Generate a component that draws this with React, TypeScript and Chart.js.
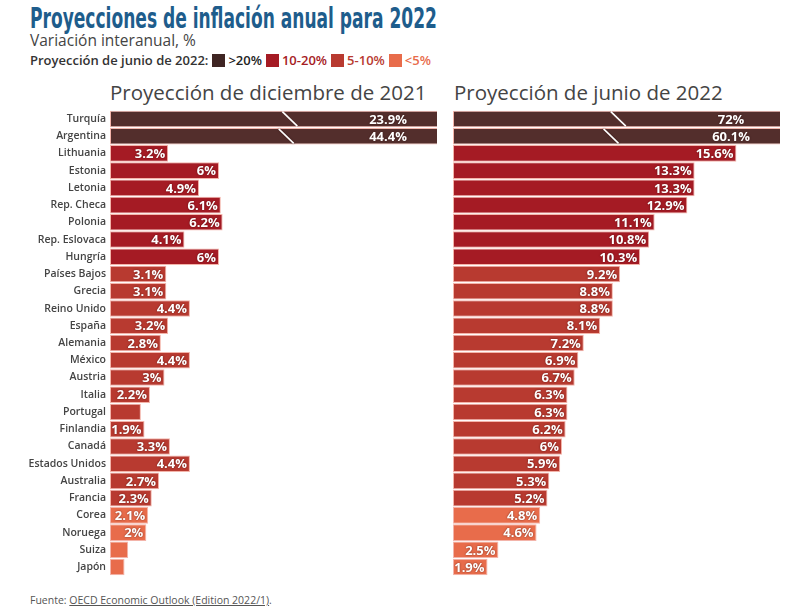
import React, { useEffect, useLayoutEffect, useRef } from "react";
import { Chart, registerables } from "chart.js";

Chart.register(...registerables);

const countries = [
  "Turquía", "Argentina", "Lithuania", "Estonia", "Letonia", "Rep. Checa", "Polonia",
  "Rep. Eslovaca", "Hungría", "Países Bajos", "Grecia", "Reino Unido", "España", "Alemania",
  "México", "Austria", "Italia", "Portugal", "Finlandia", "Canadá", "Estados Unidos",
  "Australia", "Francia", "Corea", "Noruega", "Suiza", "Japón",
];

const dec2021 = [
  23.9, 44.4, 3.2, 6, 4.9, 6.1, 6.2, 4.1, 6, 3.1, 3.1, 4.4, 3.2, 2.8,
  4.4, 3, 2.2, 1.7, 1.9, 3.3, 4.4, 2.7, 2.3, 2.1, 2, 1.0, 0.8,
];

const jun2022 = [
  72, 60.1, 15.6, 13.3, 13.3, 12.9, 11.1, 10.8, 10.3, 9.2, 8.8, 8.8, 8.1, 7.2,
  6.9, 6.7, 6.3, 6.3, 6.2, 6, 5.9, 5.3, 5.2, 4.8, 4.6, 2.5, 1.9,
];

const legendLabels = [">20%", "10-20%", "5-10%", "<5%"];
const legendColors = ["#3f2523", "#a51b24", "#b83a30", "#e86c4b"];
const legendTextColors = ["#222222", "#a51b24", "#b83a30", "#e86c4b"];
const barColors = ["#532e2c", "#a51b24", "#b83a30", "#e86c4b"];

const axisMax = 18;

function colorFor(v: number): string {
  if (v > 20) return barColors[0];
  if (v >= 10) return barColors[1];
  if (v >= 5) return barColors[2];
  return barColors[3];
}

const rowColors = jun2022.map(colorFor);

const labelPlugin = {
  id: "barLabels",
  afterDatasetsDraw(chart: any, _args: any, opts: any) {
    const ctx = chart.ctx;
    const meta = chart.getDatasetMeta(0);
    const data = chart.data.datasets[0].data as number[];
    const xs = chart.scales.x;
    const area = chart.chartArea;
    const breaks: number[] = opts.breaks || [];
    ctx.save();
    meta.data.forEach((bar: any, i: number) => {
      const v = data[i];
      const { x, y, height } = bar.getProps(["x", "y", "height"], true);
      const clipped = v > xs.max;
      const barRight = Math.min(x, area.right);
      if (clipped && breaks[i] != null) {
        const bx = xs.getPixelForValue(breaks[i]);
        ctx.strokeStyle = "#ffffff";
        ctx.lineWidth = 1.6;
        ctx.beginPath();
        ctx.moveTo(bx - 7.5, y - height / 2 + 1);
        ctx.lineTo(bx + 7.5, y + height / 2 - 1);
        ctx.stroke();
      }
      const text = String(v) + "%";
      ctx.font = 'bold 13px "Open Sans"';
      const w = ctx.measureText(text).width;
      const barW = barRight - area.left;
      if (w + 2 > barW) return;
      ctx.textBaseline = "middle";
      ctx.shadowColor = "rgba(40,0,0,0.6)";
      ctx.shadowBlur = 2;
      ctx.fillStyle = "#ffffff";
      if (clipped) {
        ctx.textAlign = "center";
        ctx.fillText(text, area.right - 49, y + 1);
      } else {
        ctx.textAlign = "right";
        ctx.fillText(text, barRight - 3, y + 1);
      }
    });
    ctx.restore();
  },
};

function makeConfig(values: number[], showLabels: boolean, yWidth: number, breaks: number[]): any {
  return {
    type: "bar",
    data: {
      labels: countries,
      datasets: [
        {
          data: values,
          backgroundColor: rowColors,
          borderColor: "#f3b4aa",
          borderWidth: 1,
          borderSkipped: false,
          categoryPercentage: 1,
          barPercentage: 0.96,
        },
      ],
    },
    options: {
      indexAxis: "y",
      responsive: false,
      animation: false,
      layout: { padding: { top: 3, bottom: 3, right: 3, left: 0 } },
      plugins: {
        legend: { display: false },
        tooltip: { enabled: false },
        title: { display: false },
        barLabels: { breaks },
      },
      scales: {
        x: {
          display: false,
          min: 0,
          max: axisMax,
        },
        y: {
          display: true,
          grid: { display: false, drawTicks: false },
          border: { display: false },
          ticks: {
            display: true,
            padding: 4,
            color: showLabels ? "#444444" : "rgba(0,0,0,0)",
            font: { family: "Open Sans", size: 10.5, weight: "600" },
          },
          afterFit(scale: any) {
            scale.width = yWidth;
          },
        },
      },
    },
    plugins: [labelPlugin],
  };
}

function BarChart(props: { values: number[]; showLabels: boolean; yWidth: number; width: number; breaks: number[]; style: any }) {
  const ref = useRef<HTMLCanvasElement | null>(null);
  useEffect(() => {
    if (!ref.current) return;
    const chart = new Chart(ref.current, makeConfig(props.values, props.showLabels, props.yWidth, props.breaks));
    return () => chart.destroy();
  }, []);
  return <canvas ref={ref} width={props.width} height={486} style={{ position: "absolute", ...props.style }} />;
}

function FitTitle(props: { text: string; targetWidth: number }) {
  const ref = useRef<HTMLDivElement | null>(null);
  useLayoutEffect(() => {
    const el = ref.current;
    if (!el) return;
    el.style.transform = "none";
    const w = el.getBoundingClientRect().width;
    if (w > 0) el.style.transform = `scaleX(${props.targetWidth / w})`;
  }, []);
  return (
    <div
      ref={ref}
      style={{
        position: "absolute", left: 30, top: 1, fontFamily: "'DejaVu Sans Condensed', 'DejaVu Sans', sans-serif",
        fontWeight: 700, fontSize: 28, color: "#1e5d8c", whiteSpace: "nowrap", lineHeight: "36px",
        transformOrigin: "0 0", display: "inline-block",
      }}
    >
      {props.text}
    </div>
  );
}

export default function App() {
  const leftBreaks = dec2021.map((v, i) => (v > axisMax ? (i === 0 ? 9.9 : 9.7) : null)) as any;
  const rightBreaks = jun2022.map((v, i) => (v > axisMax ? (i === 0 ? 9.1 : 8.7) : null)) as any;
  return (
    <div style={{ position: "absolute", left: 0, top: 0, width: 812, height: 614, background: "#fff", fontFamily: "'Open Sans', sans-serif", overflow: "hidden" }}>
      <FitTitle text="Proyecciones de inflación anual para 2022" targetWidth={407} />
      <div style={{ position: "absolute", left: 30, top: 30, fontSize: 15.5, color: "#444", lineHeight: "20px", whiteSpace: "nowrap" }}>
        Variación interanual, %
      </div>
      <div style={{ position: "absolute", left: 30, top: 51, fontSize: 13, color: "#333", fontWeight: 600, lineHeight: "18px", whiteSpace: "nowrap", display: "flex", alignItems: "center" }}>
        <span>Proyección de junio de 2022:</span>
        {legendLabels.map((l, i) => (
          <span key={l} style={{ display: "inline-flex", alignItems: "center", marginLeft: 4 }}>
            <span style={{ display: "inline-block", width: 13, height: 13, background: legendColors[i], marginRight: 3 }} />
            <span style={{ color: legendTextColors[i] }}>{l}</span>
          </span>
        ))}
      </div>
      <div style={{ position: "absolute", left: 110, top: 77, fontSize: 20.5, color: "#444", lineHeight: "30px", whiteSpace: "nowrap" }}>
        Proyección de diciembre de 2021
      </div>
      <div style={{ position: "absolute", left: 454, top: 77, fontSize: 20.5, color: "#444", lineHeight: "30px", whiteSpace: "nowrap" }}>
        Proyección de junio de 2022
      </div>
      <BarChart values={dec2021} showLabels={true} yWidth={110} width={440} breaks={leftBreaks} style={{ left: 0, top: 100 }} />
      <BarChart values={jun2022} showLabels={false} yWidth={10} width={340} breaks={rightBreaks} style={{ left: 443, top: 100 }} />
      <div style={{ position: "absolute", left: 30, top: 592, fontSize: 10.5, color: "#555", lineHeight: "16px", whiteSpace: "nowrap" }}>
        Fuente: <span style={{ textDecoration: "underline" }}>OECD Economic Outlook (Edition 2022/1)</span>.
      </div>
    </div>
  );
}
